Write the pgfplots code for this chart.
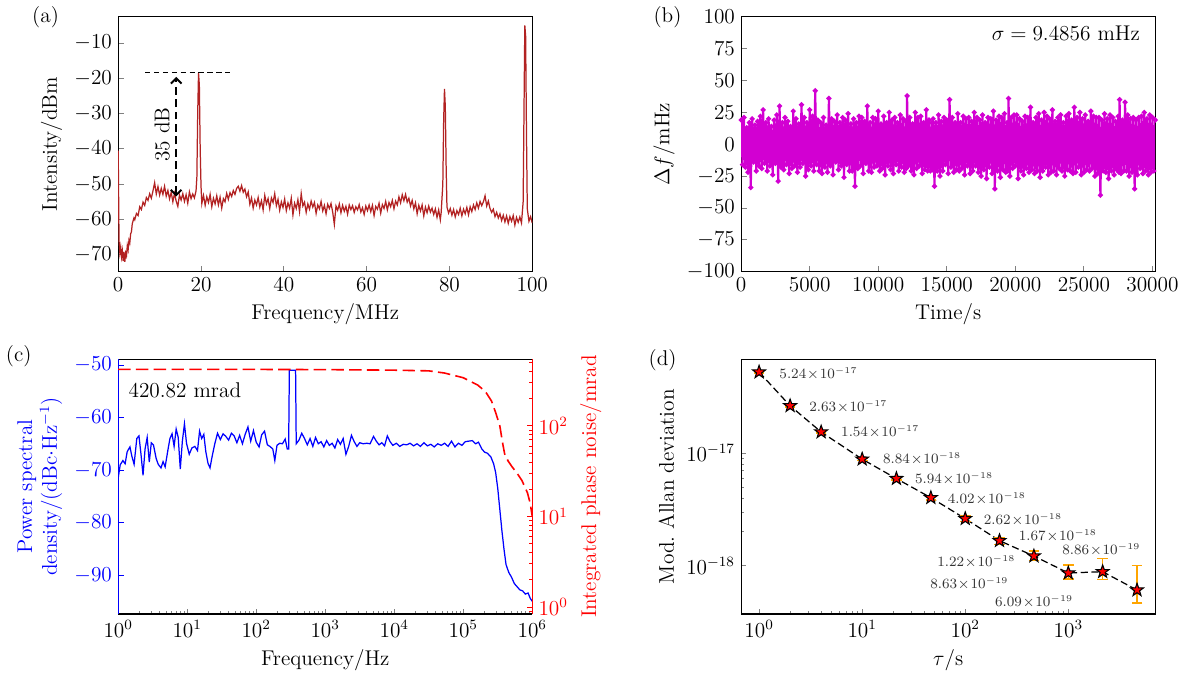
\documentclass[border=0pt]{standalone}
\usepackage{pgfplots}
\pgfplotsset{compat=1.18}
\usetikzlibrary{arrows.meta}

\definecolor{specred}{RGB}{178,34,34}
\definecolor{magentab}{RGB}{210,0,210}
\definecolor{errorange}{RGB}{255,165,0}

% filled five-pointed star
\pgfdeclareplotmark{fstar}{%
  \pgfpathmoveto{\pgfpointpolar{90}{\pgfplotmarksize}}%
  \pgfpathlineto{\pgfpointpolar{126}{0.40\pgfplotmarksize}}%
  \pgfpathlineto{\pgfpointpolar{162}{\pgfplotmarksize}}%
  \pgfpathlineto{\pgfpointpolar{198}{0.40\pgfplotmarksize}}%
  \pgfpathlineto{\pgfpointpolar{234}{\pgfplotmarksize}}%
  \pgfpathlineto{\pgfpointpolar{270}{0.40\pgfplotmarksize}}%
  \pgfpathlineto{\pgfpointpolar{306}{\pgfplotmarksize}}%
  \pgfpathlineto{\pgfpointpolar{342}{0.40\pgfplotmarksize}}%
  \pgfpathlineto{\pgfpointpolar{18}{\pgfplotmarksize}}%
  \pgfpathlineto{\pgfpointpolar{54}{0.40\pgfplotmarksize}}%
  \pgfpathclose
  \pgfusepathqfillstroke
}

\pgfplotsset{
  panel/.style={
    scale only axis, width=233pt, height=143.4pt, anchor=south west,
    tick align=inside, xtick pos=left, ytick pos=left,
    major tick length=3pt, minor tick length=1.7pt,
    every tick/.append style={line width=0.5pt},
    axis line style={line width=0.7pt},
    label style={font=\large},
    tick label style={font=\large},
  }
}

\begin{document}
\begin{tikzpicture}[font=\large]
\path (0,0) rectangle (663.6pt,376.32pt);

% ---------------- (a) beat spectrum
\node at (22.4pt,366.8pt) {(a)};
\begin{axis}[panel, at={(63.28pt,223.44pt)},
  xmin=0, xmax=100, ymin=-74.8, ymax=-2.6,
  xtick={0,20,40,60,80,100}, ytick={-70,-60,-50,-40,-30,-20,-10},
  xlabel={Frequency/MHz}, ylabel={Intensity/dBm}]
\addplot[specred, line width=0.7pt] coordinates {
(0,-40.5)(0.2,-66)(0.4,-69.5)(0.6,-67.8)(0.8,-70.6)(1.0,-68.9)(1.2,-71.8)(1.4,-69.2)(1.6,-72.0)(1.8,-69.5)
(2.0,-70.3)(2.2,-67.4)(2.4,-68.6)(2.6,-65.9)(2.8,-66.7)(3.0,-64.1)(3.2,-63.5)(3.4,-61.2)(3.6,-60.4)(3.8,-59.6)
(4.0,-60.1)(4.4,-58.3)(4.8,-58.9)(5.2,-56.4)(5.6,-57.2)(6.0,-55.1)(6.4,-56.0)(6.8,-53.8)(7.2,-54.6)(7.6,-52.7)
(8.0,-54.0)(8.4,-51.9)(8.8,-49.6)(9.2,-52.8)(9.6,-50.7)(10.0,-53.1)(10.4,-51.2)(10.8,-52.9)(11.2,-50.6)(11.6,-53.4)
(12.0,-51.8)(12.4,-54.2)(12.8,-52.3)(13.2,-55.0)(13.6,-52.6)(14.0,-54.8)(14.4,-56.3)(14.8,-53.1)(15.2,-54.5)(15.6,-52.7)
(16.0,-54.9)(16.4,-53.0)(16.8,-55.4)(17.2,-52.2)(17.6,-54.1)(18.0,-52.8)(18.4,-53.9)(18.8,-51.9)(19.0,-48)(19.2,-30)
(19.4,-18.5)(19.6,-22)(19.8,-40)(20.0,-50.5)(20.2,-55.5)(20.6,-53.2)(21.0,-56.0)(21.4,-53.6)(21.8,-55.2)(22.2,-52.9)
(22.6,-56.4)(23.0,-54.0)(23.4,-55.6)(23.8,-53.3)(24.2,-55.9)(24.6,-53.7)(25.0,-56.8)(25.4,-54.1)(25.8,-55.0)(26.2,-52.6)
(26.6,-54.3)(27.0,-52.4)(27.4,-53.5)(27.8,-51.8)(28.2,-52.9)(28.6,-51.2)(29.0,-50.6)(29.4,-52.0)(29.8,-50.4)(30.2,-52.3)
(30.6,-51.4)(31.0,-53.6)(31.4,-52.2)(31.8,-55.7)(32.2,-53.9)(32.6,-56.8)(33.0,-54.5)(33.4,-55.9)(33.8,-53.8)(34.2,-56.5)
(34.6,-54.7)(35.0,-57.3)(35.4,-53.2)(35.8,-55.6)(36.2,-54.1)(36.6,-56.9)(37.0,-53.9)(37.4,-55.2)(37.8,-52.7)(38.2,-56.1)
(38.6,-54.3)(39.0,-57.4)(39.4,-55.0)(39.8,-56.6)(40.2,-54.2)(40.6,-57.5)(41.0,-55.3)(41.4,-56.8)(41.8,-54.0)(42.2,-58.7)
(42.6,-55.4)(43.0,-56.9)(43.4,-54.4)(43.8,-57.8)(44.2,-52.7)(44.6,-56.2)(45.0,-55.1)(45.4,-58.0)(45.8,-55.6)(46.2,-57.1)
(46.6,-54.8)(47.0,-56.5)(47.4,-55.2)(47.8,-58.3)(48.2,-55.9)(48.6,-57.0)(49.0,-54.9)(49.4,-57.6)(49.8,-56.0)(50.2,-58.4)
(50.6,-55.7)(51.0,-56.9)(51.4,-55.5)(51.8,-57.9)(52.2,-61.4)(52.6,-56.2)(53.0,-57.4)(53.4,-55.6)(53.8,-58.1)(54.2,-56.0)
(54.6,-57.7)(55.0,-56.3)(55.4,-58.5)(55.8,-55.9)(56.2,-57.2)(56.6,-56.1)(57.0,-58.0)(57.4,-56.4)(57.8,-57.3)(58.2,-55.8)
(58.6,-57.9)(59.0,-56.7)(59.4,-58.6)(59.8,-56.2)(60.2,-57.5)(60.6,-55.9)(61.0,-57.8)(61.4,-56.0)(61.8,-58.9)(62.2,-56.3)
(62.6,-57.1)(63.0,-55.4)(63.4,-58.2)(63.8,-55.8)(64.2,-56.9)(64.6,-54.9)(65.0,-57.3)(65.4,-55.2)(65.8,-56.4)(66.2,-54.6)
(66.6,-57.0)(67.0,-54.8)(67.4,-55.9)(67.8,-53.6)(68.2,-55.3)(68.6,-53.0)(69.0,-54.7)(69.4,-52.9)(69.8,-55.1)(70.2,-54.0)
(70.6,-56.2)(71.0,-54.6)(71.4,-57.0)(71.8,-55.3)(72.2,-58.4)(72.6,-56.0)(73.0,-57.6)(73.4,-55.9)(73.8,-59.0)(74.2,-56.5)
(74.6,-58.1)(75.0,-56.2)(75.4,-57.9)(75.8,-56.8)(76.2,-58.6)(76.6,-57.0)(77.0,-59.4)(77.4,-57.3)(77.8,-60.1)(78.0,-58.0)
(78.4,-50)(78.6,-32)(78.8,-23)(79.0,-28)(79.2,-45)(79.4,-56.5)(79.8,-58.2)(80.2,-56.9)(80.6,-58.8)(81.0,-57.2)
(81.4,-59.3)(81.8,-57.5)(82.2,-58.6)(82.6,-56.8)(83.0,-59.0)(83.4,-57.1)(83.8,-58.4)(84.2,-56.6)(84.6,-58.7)(85.0,-56.4)
(85.4,-57.8)(85.8,-55.9)(86.2,-57.2)(86.6,-55.3)(87.0,-56.8)(87.4,-54.9)(87.8,-56.1)(88.2,-55.0)(88.6,-53.3)(89.0,-56.2)
(89.4,-54.8)(89.8,-56.9)(90.2,-58.0)(90.6,-57.1)(91.0,-59.2)(91.4,-58.0)(91.8,-59.6)(92.2,-58.4)(92.6,-60.3)(93.0,-58.8)
(93.4,-60.7)(93.8,-59.0)(94.2,-61.1)(94.6,-59.2)(95.0,-60.5)(95.4,-58.9)(95.8,-61.6)(96.2,-59.4)(96.6,-60.8)(97.0,-59.3)
(97.4,-61.0)(97.8,-55)(98.0,-30)(98.2,-5)(98.4,-8)(98.6,-35)(98.8,-57)(99.2,-60.5)(99.6,-59.2)(100,-61.0)
};
\draw[black, line width=0.6pt, dash pattern=on 3pt off 2pt] (axis cs:6.5,-18.5) -- (axis cs:27,-18.5);
\draw[black, line width=1.1pt, dash pattern=on 4.5pt off 2.5pt, {Straight Barb[length=3pt,width=6pt]}-{Straight Barb[length=3pt,width=6pt]}]
  (axis cs:14,-53.5) -- (axis cs:14,-19.6);
\node[rotate=90] at (axis cs:10.6,-36) {35 dB};
\end{axis}

% ---------------- (b) frequency deviation
\node at (372.4pt,366.8pt) {(b)};
\begin{axis}[panel, at={(413.84pt,223.44pt)},
  xmin=0, xmax=30200, ymin=-100, ymax=100,
  xtick={0,5000,10000,15000,20000,25000,30000},
  ytick={-100,-75,-50,-25,0,25,50,75,100},
  scaled x ticks=false,
  xticklabel style={/pgf/number format/.cd, fixed, 1000 sep={}},
  xlabel={Time/s}, ylabel={$\Delta f$/mHz}]
\addplot[magentab, line width=1.2pt, mark=*, mark size=0.75pt] coordinates {
(0,19)(100,-16)(200,21)(300,-18)(400,13)(500,-22)(600,17)(700,-34)(800,20)(900,-14)
(1000,15)(1100,-21)(1200,18)(1300,-17)(1400,22)(1500,-19)(1600,27)(1700,-15)(1800,17)(1900,-21)
(2000,20)(2100,-17)(2200,14)(2300,-24)(2400,19)(2500,-15)(2600,23)(2700,-29)(2800,30)(2900,-18)
(3000,17)(3100,-20)(3200,21)(3300,-16)(3400,18)(3500,-23)(3600,14)(3700,-19)(3800,26)(3900,-17)
(4000,20)(4100,-22)(4200,16)(4300,-18)(4400,31)(4500,-15)(4600,21)(4700,-25)(4800,17)(4900,-20)
(5000,27)(5100,-17)(5200,22)(5300,-21)(5400,42)(5500,-16)(5600,19)(5700,-21)(5800,17)(5900,-23)
(6000,21)(6100,-18)(6200,15)(6300,-22)(6400,36)(6500,-17)(6600,20)(6700,-24)(6800,18)(6900,-14)
(7000,23)(7100,-20)(7200,17)(7300,-17)(7400,21)(7500,-26)(7600,19)(7700,-16)(7800,24)(7900,-21)
(8000,16)(8100,-21)(8200,20)(8300,-33)(8400,17)(8500,-19)(8600,22)(8700,-17)(8800,21)(8900,-23)
(9000,18)(9100,-15)(9200,30)(9300,-21)(9400,17)(9500,-22)(9600,21)(9700,-18)(9800,20)(9900,-17)
(10000,26)(10100,-21)(10200,16)(10300,-19)(10400,22)(10500,-24)(10600,17)(10700,-17)(10800,25)(10900,-20)
(11000,19)(11100,-23)(11200,21)(11300,-16)(11400,17)(11500,-21)(11600,23)(11700,-18)(11800,20)(11900,-22)
(12000,18)(12050,-19)(12100,38)(12200,-17)(12300,21)(12400,-21)(12500,16)(12600,-24)(12700,25)(12800,-19)(12900,21)
(13000,-17)(13100,22)(13200,-23)(13300,17)(13400,-20)(13500,27)(13600,-21)(13700,19)(13800,-21)(13900,17)
(13950,-20)(14000,20)(14100,-33)(14200,17)(14300,-21)(14400,23)(14500,-25)(14600,18)(14700,-21)(14800,21)(14900,-16)
(15000,19)(15100,-23)(15200,35)(15300,-18)(15400,21)(15500,-22)(15600,17)(15700,-20)(15800,24)(15900,-21)
(16000,17)(16100,-19)(16200,22)(16300,-24)(16400,20)(16500,-17)(16600,21)(16700,-23)(16800,18)(16900,-21)
(17000,25)(17100,-17)(17200,21)(17300,-22)(17400,19)(17500,-25)(17600,23)(17700,-20)(17800,17)(17900,-27)
(18000,21)(18100,-18)(18200,20)(18300,-23)(18400,26)(18500,-35)(18600,19)(18700,-21)(18800,22)(18900,-26)
(19000,21)(19100,-20)(19200,24)(19300,-22)(19400,17)(19450,-21)(19500,36)(19600,-25)(19700,21)(19800,-19)(19900,23)
(20000,-17)(20100,23)(20200,-27)(20300,20)(20400,-21)(20500,18)(20600,-24)(20700,22)(20800,-19)(20900,21)
(21000,-22)(21100,29)(21200,-20)(21300,17)(21400,-23)(21500,21)(21600,-21)(21700,24)(21800,-26)(21900,19)
(22000,-21)(22100,25)(22200,-18)(22300,22)(22400,-24)(22500,20)(22600,-22)(22700,27)(22800,-21)(22900,18)
(23000,-24)(23100,21)(23200,-19)(23300,23)(23400,-21)(23500,17)(23600,-25)(23700,22)(23800,-20)(23900,24)
(24000,-21)(24100,19)(24200,-23)(24300,29)(24400,-22)(24500,21)(24600,-18)(24700,25)(24800,-24)(24900,20)
(25000,-22)(25100,23)(25200,-20)(25300,18)(25400,-21)(25500,26)(25600,-19)(25700,22)(25800,-25)(25900,21)
(26000,-23)(26100,21)(26200,-40)(26300,19)(26400,-21)(26500,24)(26600,-22)(26700,20)(26800,-27)(26900,23)
(27000,-21)(27100,21)(27200,-24)(27300,18)(27400,-20)(27500,22)(27550,-22)(27600,35)(27700,-23)(27800,19)(27900,-21)
(28000,33)(28100,-21)(28200,23)(28300,-25)(28400,20)(28500,-22)(28600,21)(28700,-35)(28800,19)(28900,-24)
(29000,21)(29100,-19)(29200,22)(29300,-23)(29400,25)(29500,-21)(29600,20)(29700,-24)(29800,23)(29900,-22)
(30000,21)(30100,-21)(30200,19)
};
\node[anchor=east] at (rel axis cs:0.978,0.934) {$\sigma=9.4856$ mHz};
\end{axis}

% ---------------- (c) phase noise PSD + integrated phase noise
\node at (7.28pt,175.84pt) {(c)};
\begin{axis}[panel, at={(63.28pt,30.8pt)},
  xmode=log, xmin=1, xmax=1e6, ymin=-97.4, ymax=-48.9,
  xtick={1,10,100,1000,10000,100000,1000000},
  ytick={-90,-80,-70,-60,-50},
  axis x line*=box, axis y line*=left,
  y axis line style={blue, -},
  ytick style={blue}, yticklabel style={blue},
  ylabel style={blue, align=center},
  xlabel={Frequency/Hz},
  ylabel={Power spectral\\density/(dBc$\cdot$Hz$^{-1}$)}]
\addplot[blue, line width=0.7pt] coordinates {
(1,-71.5)(1.07,-69.0)(1.17,-68.2)(1.26,-68.8)(1.35,-66.5)(1.48,-65.6)(1.58,-67.4)(1.70,-68.9)(1.86,-64.0)(2.0,-63.5)
(2.14,-67.0)(2.29,-71.0)(2.45,-66.0)(2.63,-63.8)(2.82,-68.5)(3.02,-64.8)(3.24,-65.2)(3.55,-67.8)(3.80,-68.9)(4.17,-69.6)
(4.47,-68.4)(4.79,-69.4)(5.25,-66.2)(5.62,-64.0)(6.03,-63.1)(6.46,-65.5)(6.92,-62.2)(7.41,-63.8)(7.94,-69.8)(8.51,-64.5)
(9.12,-61.2)(9.77,-64.9)(10.7,-67.0)(11.7,-65.8)(12.9,-65.5)(14.1,-66.3)(15.1,-62.6)(16.2,-64.0)(17.4,-63.2)(18.6,-66.5)
(20.0,-68.7)(21.4,-69.6)(22.9,-67.5)(25.1,-65.0)(27.5,-63.0)(30.2,-64.2)(33.1,-63.1)(36.3,-63.6)(39.8,-64.3)(43.7,-63.0)
(47.9,-63.5)(52.5,-64.8)(57.5,-63.4)(63.1,-65.0)(69.2,-63.2)(75.9,-61.8)(83.2,-64.5)(91.2,-62.5)(100,-64.7)(110,-65.6)
(120,-63.3)(132,-62.6)(145,-65.2)(158,-65.5)(174,-66.0)(186,-68.2)(200,-65.3)(219,-64.9)(240,-65.0)(263,-64.1)
(282,-66.0)(295,-66.0)(302,-51.0)(372,-51.0)(380,-65.0)(417,-64.3)(457,-63.0)(501,-64.0)(550,-65.2)(603,-64.0)
(661,-65.5)(724,-63.8)(794,-65.0)(871,-64.6)(955,-65.6)(1047,-64.4)(1148,-65.3)(1259,-64.9)(1380,-65.8)(1514,-64.2)
(1660,-65.1)(1820,-64.0)(1995,-67.0)(2188,-65.5)(2399,-63.4)(2630,-64.6)(2884,-65.5)(3162,-64.8)(3548,-65.0)(3981,-64.9)
(4467,-65.0)(5012,-63.6)(5495,-64.5)(6026,-65.2)(6607,-64.8)(7244,-65.4)(7943,-63.5)(8710,-64.6)(9550,-65.3)(10715,-64.9)
(12023,-65.5)(13490,-65.1)(15136,-65.2)(16982,-64.9)(19055,-65.4)(21380,-65.0)(23988,-65.5)(26915,-64.8)(30200,-65.4)(33884,-65.1)
(38019,-65.6)(42658,-65.0)(47863,-65.3)(53703,-64.9)(60256,-65.5)(67608,-64.5)(75858,-65.6)(85114,-64.9)(95499,-65.3)(107152,-64.6)
(120226,-64.5)(134896,-64.4)(151356,-65.0)(165959,-64.7)(186209,-66.0)(204174,-66.6)(223872,-66.8)(251189,-67.5)(275423,-68.8)(295121,-70.5)
(316228,-73.5)(338844,-77.5)(363078,-81.5)(389045,-85.0)(416869,-88.0)(457088,-89.5)(501187,-90.4)(549541,-91.6)(602560,-92.2)(660693,-92.8)
(724436,-93.0)(794328,-93.6)(870964,-93.4)(933254,-94.4)(1000000,-95.0)
};
\node at (rel axis cs:0.161,0.879) {420.82 mrad};
\end{axis}
\begin{axis}[panel, at={(63.28pt,30.8pt)},
  xmode=log, xmin=1, xmax=1e6, ymode=log, ymin=0.84, ymax=545,
  axis x line=none, axis y line*=right,
  ytick pos=right, yticklabel pos=right,
  ylabel near ticks,
  y axis line style={red, -},
  ytick style={red}, yticklabel style={red},
  ylabel style={red},
  ylabel={Integrated phase noise/mrad}]
\addplot[red, line width=0.9pt, dash pattern=on 7pt off 3pt] coordinates {
(1,420.8)(10,420.5)(100,420)(1000,418)(10000,412)(31623,405)(53703,383)(100000,340)(162181,282)(208930,240)
(257040,188)(295121,140)(338844,100)(371535,65)(398107,49)(446684,41)(501187,36)(602560,30)(707946,25)(851138,18.3)
(933254,14)(1000000,10)
};
\end{axis}

% ---------------- (d) modified Allan deviation
\node at (369.6pt,173.6pt) {(d)};
\begin{axis}[panel, at={(413.84pt,30.8pt)},
  xmode=log, ymode=log, xmin=0.67, xmax=6970, ymin=3.73e-19, ymax=6.82e-17,
  xtick={1,10,100,1000}, ytick={1e-18,1e-17},
  xlabel={$\tau$/s}, ylabel={Mod.\ Allan deviation}]
\addplot[black, line width=0.7pt, dash pattern=on 4pt off 2pt,
  mark=fstar, mark size=3.8pt,
  mark options={solid, fill=red, draw=black, line width=0.6pt},
  error bars/.cd, y dir=both, y explicit,
  error bar style={errorange, line width=0.9pt, solid},
  error mark options={errorange, line width=0.9pt, mark size=3pt, rotate=90, solid}]
coordinates {
(1,5.24e-17) += (0,0.10e-17) -= (0,0.10e-17)
(2,2.63e-17) += (0,0.06e-17) -= (0,0.06e-17)
(4,1.54e-17) += (0,0.04e-17) -= (0,0.04e-17)
(10,8.84e-18) += (0,0.25e-18) -= (0,0.25e-18)
(21.5,5.94e-18) += (0,0.2e-18) -= (0,0.2e-18)
(46.4,4.02e-18) += (0,0.18e-18) -= (0,0.18e-18)
(100,2.62e-18) += (0,0.15e-18) -= (0,0.15e-18)
(215,1.67e-18) += (0,0.12e-18) -= (0,0.12e-18)
(464,1.22e-18) += (0,0.14e-18) -= (0,0.11e-18)
(1000,8.63e-19) += (0,1.5e-19) -= (0,1.0e-19)
(2154,8.86e-19) += (0,2.7e-19) -= (0,1.33e-19)
(4642,6.09e-19) += (0,4.0e-19) -= (0,1.42e-19)
};
\begin{scope}[font=\fontsize{7.8}{9}\selectfont, text=black!80]
\node[anchor=west] at (axis cs:1.37,5.1e-17) {$5.24\!\times\!10^{-17}$};
\node[anchor=west] at (axis cs:2.67,2.6e-17) {$2.63\!\times\!10^{-17}$};
\node[anchor=west] at (axis cs:5.44,1.56e-17) {$1.54\!\times\!10^{-17}$};
\node[anchor=west] at (axis cs:13.9,8.84e-18) {$8.84\!\times\!10^{-18}$};
\node[anchor=west] at (axis cs:28.3,5.9e-18) {$5.94\!\times\!10^{-18}$};
\node[anchor=west] at (axis cs:59,3.95e-18) {$4.02\!\times\!10^{-18}$};
\node[anchor=west] at (axis cs:132,2.58e-18) {$2.62\!\times\!10^{-18}$};
\node[anchor=west] at (axis cs:288,1.85e-18) {$1.67\!\times\!10^{-18}$};
\node[anchor=east] at (axis cs:352,1.09e-18) {$1.22\!\times\!10^{-18}$};
\node[anchor=east] at (axis cs:301,6.97e-19) {$8.63\!\times\!10^{-19}$};
\node at (axis cs:2090,1.39e-18) {$8.86\!\times\!10^{-19}$};
\node[anchor=east] at (axis cs:1280,4.83e-19) {$6.09\!\times\!10^{-19}$};
\end{scope}
\end{axis}
\end{tikzpicture}
\end{document}
